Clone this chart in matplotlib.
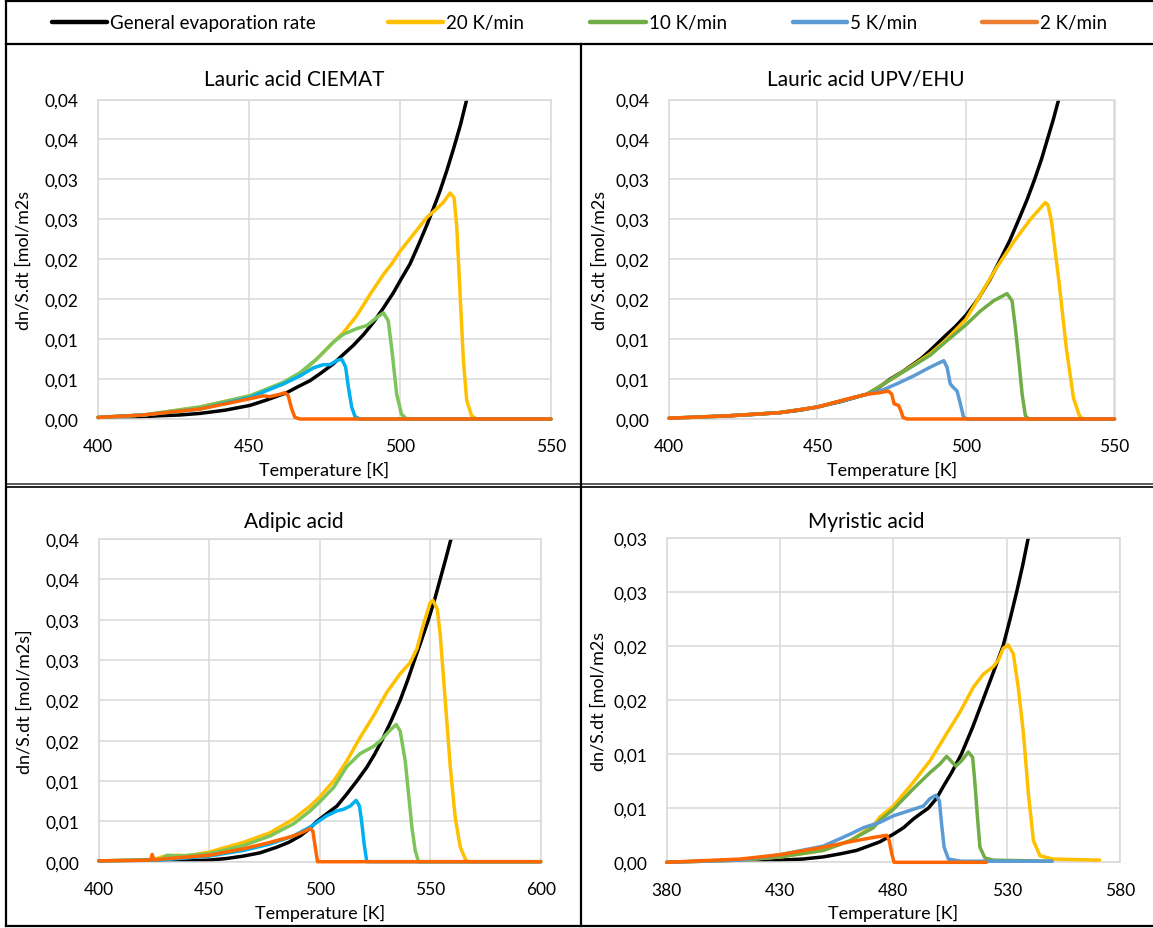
import matplotlib
matplotlib.use('Agg')
import matplotlib.pyplot as plt
from matplotlib.lines import Line2D

plt.rcParams['font.family'] = ['Lato', 'DejaVu Sans']

W, H = 1153, 929

# ---------------- Lauric acid CIEMAT ----------------
cie_gen_T = [400, 410, 420, 427, 433.8, 442, 450.3, 456, 462.5, 466, 470.2, 474, 477.9, 481, 484.5, 488, 491.2, 494.5,
             497.8, 500.5, 503.3, 506, 508.8, 511, 513.2, 515.5, 517.7, 520, 522.1, 524]
cie_gen_r = [0.0001, 0.0002, 0.0004, 0.0005, 0.0007, 0.0011, 0.0017, 0.0024, 0.0033, 0.0040, 0.0048, 0.0058, 0.0069, 0.0080,
             0.0092, 0.0106, 0.0121, 0.0139, 0.0158, 0.0176, 0.0194, 0.0217, 0.0242, 0.0263, 0.0285, 0.0311, 0.0338, 0.0368,
             0.0400, 0.0430]
cie_20_T = [400, 415, 433.8, 450.3, 461.4, 466.9, 472.4, 477.9, 481.2, 485.6, 490.1, 494.5, 497.2, 500.0, 504.4, 508.8,
            512.1, 514.3, 516.6, 517.9, 518.8, 519.9, 521.0, 522.1, 523.7, 525.4, 550]
cie_20_r = [0.0002, 0.0005, 0.0015, 0.0029, 0.0044, 0.0056, 0.0075, 0.0096, 0.0108, 0.0129, 0.0156, 0.0181, 0.0194, 0.0210, 0.0231, 0.0252,
            0.0263, 0.0271, 0.0283, 0.0277, 0.0240, 0.0156, 0.0073, 0.0023, 0.0004, 0.0, 0.0]
cie_10_T = [400, 415, 433.8, 450.3, 461.4, 466.9, 472.4, 477.9, 481.2, 485.6, 489.0, 492.3, 494.5, 496.1, 497.2, 498.9, 500.5, 502.2, 550]
cie_10_r = [0.0002, 0.0005, 0.0015, 0.0029, 0.0046, 0.0058, 0.0075, 0.0096, 0.0106, 0.0113, 0.0117, 0.0127, 0.0133, 0.0123, 0.0090, 0.0031, 0.0006, 0.0, 0.0]
cie_5_T = [400, 415, 433.8, 450.3, 461.4, 466.9, 471.3, 474.6, 476.8, 479.0, 480.7, 482.0, 482.9, 484.0, 485.1, 486.7, 550]
cie_5_r = [0.0002, 0.0005, 0.00125, 0.0027, 0.0044, 0.0054, 0.0064, 0.0068, 0.0068, 0.0073, 0.0075, 0.0065, 0.0040, 0.0015, 0.0003, 0.0, 0.0]
cie_2_T = [400, 415, 433.8, 444.8, 454.7, 456.9, 460.3, 461.9, 463.0, 464.1, 465.2, 466.9, 550]
cie_2_r = [0.0002, 0.0005, 0.00125, 0.0021, 0.0029, 0.0028, 0.0031, 0.0033, 0.0029, 0.0013, 0.0002, 0.0, 0.0]

# ---------------- Lauric acid UPV/EHU ----------------
upv_gen_T = [400, 410, 420, 430, 437.4, 444, 450, 458, 466.6, 470.5, 474.5, 478.5, 482.4, 485, 488, 493, 496.5, 500, 504,
             508, 511.6, 514.8, 517.8, 520.6, 523.1, 525.4, 527.4, 529.4, 531.2, 532.5]
upv_gen_r = [0.0001, 0.0002, 0.0004, 0.0006, 0.0008, 0.0011, 0.0015, 0.0022, 0.0031, 0.0039, 0.0050, 0.0059, 0.0069, 0.0076,
             0.0086, 0.0104, 0.0116, 0.0130, 0.0150, 0.0174, 0.0200, 0.0224, 0.0250, 0.0275, 0.0300, 0.0325, 0.0350, 0.0375,
             0.0400, 0.0420]
upv_20_T = [400, 420, 437.4, 450, 466.6, 474.5, 482.4, 488, 493, 500, 504.8, 510.4, 516.1, 521.7, 526.7, 527.6,
            528.8, 531.3, 533.8, 536.2, 538.1, 539.3, 550]
upv_20_r = [0.0001, 0.0004, 0.0008, 0.0015, 0.0031, 0.0049, 0.0068, 0.0082, 0.0098, 0.0125, 0.0155, 0.0190, 0.0222, 0.0250, 0.0271, 0.0268,
            0.0247, 0.0172, 0.0088, 0.0026, 0.0005, 0.0, 0.0]
upv_10_T = [400, 420, 437.4, 450, 466.6, 474.5, 482.4, 488, 493.6, 500, 504.8, 509.3, 513.8, 515.5, 516.6, 517.8, 518.9, 520, 521.1, 550]
upv_10_r = [0.0001, 0.0004, 0.0008, 0.0015, 0.0031, 0.0049, 0.0067, 0.0080, 0.0098, 0.0118, 0.0135, 0.0148, 0.0157, 0.0148, 0.0115, 0.0073,
            0.0031, 0.0004, 0.0, 0.0]
upv_5_T = [400, 420, 437.4, 450, 466.6, 471.1, 476.7, 482.4, 488, 492.5, 493.6, 494.7, 495.6, 497, 498.1, 499.2, 500.5, 550]
upv_5_r = [0.0001, 0.0004, 0.0008, 0.0015, 0.0031, 0.0035, 0.0044, 0.0054, 0.0065, 0.0073, 0.0065, 0.0044, 0.0040, 0.0035, 0.0019, 0.0002, 0.0, 0.0]
upv_2_T = [400, 420, 437.4, 450, 459.9, 466.6, 471.1, 473.9, 475.0, 475.8, 477.3, 478.1, 478.8, 480.1, 550]
upv_2_r = [0.0001, 0.0004, 0.0008, 0.0015, 0.0025, 0.0031, 0.0033, 0.0035, 0.0031, 0.0019, 0.0017, 0.0010, 0.0002, 0.0, 0.0]

# ---------------- Adipic acid ----------------
adi_gen_T = [400, 415, 427.8, 440, 450, 458, 465.5, 473, 480.6, 486, 491.2, 495, 498.7, 503, 507.8, 512, 516.8, 521.3, 524.8,
             528.1, 532.4, 536.4, 539.8, 542.9, 546.1, 549.2, 552, 554.5, 557, 559.4, 560.5]
adi_gen_r = [0.0, 0.00005, 0.0001, 0.0001, 0.0002, 0.0004, 0.0007, 0.0011, 0.0018, 0.0024, 0.0032, 0.0040, 0.0050, 0.0059,
             0.0069, 0.0083, 0.0100, 0.0117, 0.0133, 0.0150, 0.0175, 0.0200, 0.0225, 0.0250, 0.0275, 0.0300, 0.0325, 0.0350,
             0.0375, 0.0400, 0.0415]
adi_20_T = [400, 424, 430, 436, 440, 450, 465.5, 477.6, 488.2, 495.7, 499.9, 506.3, 512.3, 518.3, 524.4, 530.4, 536.4, 541, 544, 547,
            550, 551.2, 553.2, 554.5, 556.8, 559.1, 561.3, 563.6, 566.1, 567.5, 600]
adi_20_r = [0.0001, 0.0002, 0.0007, 0.0008, 0.0007, 0.0012, 0.0024, 0.0036, 0.0053, 0.0069, 0.0080, 0.0100, 0.0125, 0.0154, 0.0181, 0.0210,
            0.0233, 0.0247, 0.0264, 0.0295, 0.0321, 0.0324, 0.0313, 0.0282, 0.0200, 0.0117, 0.0055, 0.0018, 0.0002, 0.0, 0.0]
adi_10_T = [400, 428, 431, 436, 450, 465.5, 477.6, 488.2, 495.7, 499.9, 506.3, 512.3, 518.3, 524.4, 527.4, 531.5, 534.6, 536.4, 538.7,
            540.2, 541.7, 543.2, 544.7, 600]
adi_10_r = [0.0001, 0.0003, 0.0008, 0.0007, 0.0010, 0.0020, 0.0032, 0.0047, 0.0063, 0.0074, 0.0092, 0.0118, 0.0134, 0.0143, 0.0150, 0.0162,
            0.0170, 0.0162, 0.0125, 0.0084, 0.0043, 0.0014, 0.0, 0.0]
adi_5_T = [400, 427.8, 450, 465.5, 477.6, 488.2, 495.7, 499.9, 503.2, 507.8, 510.8, 513.8, 516.5, 518, 519.1, 520.1, 521.3, 600]
adi_5_r = [0.0001, 0.0002, 0.0007, 0.0014, 0.0022, 0.0032, 0.0043, 0.0051, 0.0057, 0.0063, 0.0065, 0.0069, 0.0076, 0.0069, 0.0047, 0.0022, 0.0, 0.0]
adi_2_T = [400, 423.5, 424.2, 425, 427.8, 450, 465.5, 477.6, 488.2, 492.7, 495.7, 496.9, 498, 499, 600]
adi_2_r = [0.0001, 0.0002, 0.0009, 0.0002, 0.0003, 0.0008, 0.0016, 0.0024, 0.0032, 0.0037, 0.0041, 0.0038, 0.0018, 0.0, 0.0]

# ---------------- Myristic acid ----------------
myr_gen_T = [380, 400, 412.4, 430, 440, 449.1, 457, 463.8, 469, 474.1, 480, 484.5, 488.8, 492, 495.4, 499, 502, 505.7, 510,
             515, 519.5, 524, 528.4, 531.5, 534.4, 537.1, 539.6, 540.5]
myr_gen_r = [0.0, 0.0001, 0.0001, 0.0002, 0.0003, 0.0005, 0.0008, 0.0011, 0.0015, 0.0019, 0.0026, 0.0032, 0.0040, 0.0045,
             0.0050, 0.0059, 0.0070, 0.0083, 0.0100, 0.0125, 0.0150, 0.0175, 0.0200, 0.0225, 0.0250, 0.0275, 0.0301, 0.0310]
myr_20_T = [380, 412.4, 430, 449.1, 460.9, 471.2, 474.1, 480, 488.8, 496.2, 503.5, 509.4, 515.3, 519.7, 524.1, 526.3, 528.5, 530.7,
            532.9, 535.1, 537.4, 539.6, 541.8, 544.7, 550.6, 571]
myr_20_r = [0.0, 0.0002, 0.0005, 0.0011, 0.0020, 0.0034, 0.0042, 0.0052, 0.0074, 0.0094, 0.0119, 0.0139, 0.0162, 0.0174, 0.0181, 0.0187,
            0.0198, 0.0201, 0.0193, 0.0162, 0.0119, 0.0063, 0.0020, 0.0006, 0.0003, 0.0002]
myr_10_T = [380, 412.4, 430, 449.1, 460.9, 471.2, 474.1, 480, 488.8, 496.2, 500.6, 503.5, 505.3, 507.6, 510.1, 513.1, 515, 516, 517.1,
            518.2, 520.4, 524.1, 550]
myr_10_r = [0.0, 0.0002, 0.0005, 0.0011, 0.0020, 0.0032, 0.0039, 0.0049, 0.0068, 0.0083, 0.0091, 0.0098, 0.0094, 0.0089, 0.0094, 0.0102,
            0.0097, 0.0073, 0.0042, 0.0014, 0.0004, 0.0002, 0.0001]
myr_5_T = [380, 412.4, 430, 449.1, 460.9, 466.8, 471.2, 474.1, 480, 488.8, 493.2, 496.2, 498.8, 500.3, 501.3, 502.4, 504.3, 510, 550]
myr_5_r = [0.0, 0.0002, 0.0007, 0.0015, 0.0026, 0.0032, 0.0035, 0.0037, 0.0043, 0.0049, 0.0052, 0.0059, 0.0062, 0.0057, 0.0035, 0.0014,
           0.0003, 0.0001, 0.0001]
myr_2_T = [380, 412.4, 430, 449.1, 460.9, 471.2, 477.1, 478.2, 479.3, 480.3, 521]
myr_2_r = [0.0, 0.0003, 0.0007, 0.0014, 0.0019, 0.0023, 0.0025, 0.0020, 0.0008, 0.0, 0.0]

# axis ticks
ticks_04 = [0, 0.005, 0.01, 0.015, 0.02, 0.025, 0.03, 0.035, 0.04]
labels_04 = ['0,00', '0,01', '0,01', '0,02', '0,02', '0,03', '0,03', '0,04', '0,04']
ticks_03 = [0, 0.005, 0.01, 0.015, 0.02, 0.025, 0.03]
labels_03 = ['0,00', '0,01', '0,01', '0,02', '0,02', '0,03', '0,03']

series_names = ['General evaporation rate', '20 K/min', '10 K/min', '5 K/min', '2 K/min']

GOLD = '#FFC000'
ORANGE = '#FF6600'
light = ['black', GOLD, '#7DC55A', '#00B0F0', ORANGE]
dark = ['black', GOLD, '#70AD47', '#5B9BD5', ORANGE]

# title, ylabel, plot box in px [left, top, right, bottom], xlim, xticks, ymax, yticks, labels,
# data, colours, ylabel offset, title x/y, xlabel y
panels = [
    ('Lauric acid CIEMAT', 'dn/S.dt [mol/m2s', (98, 100.5, 551, 420), (400, 550), [400, 450, 500, 550],
     0.04, ticks_04, labels_04,
     [(cie_gen_T, cie_gen_r), (cie_20_T, cie_20_r), (cie_10_T, cie_10_r), (cie_5_T, cie_5_r), (cie_2_T, cie_2_r)],
     light, 74, 294, 80, 470),
    ('Lauric acid UPV/EHU', 'dn/S.dt [mol/m2s', (669, 100.5, 1114.5, 420), (400, 550), [400, 450, 500, 550],
     0.04, ticks_04, labels_04,
     [(upv_gen_T, upv_gen_r), (upv_20_T, upv_20_r), (upv_10_T, upv_10_r), (upv_5_T, upv_5_r), (upv_2_T, upv_2_r)],
     dark, 69, 866, 80, 470),
    ('Adipic acid', 'dn/S.dt [mol/m2s]', (98.7, 540, 540.7, 862.7), (400, 600), [400, 450, 500, 550, 600],
     0.04, ticks_04, labels_04,
     [(adi_gen_T, adi_gen_r), (adi_20_T, adi_20_r), (adi_10_T, adi_10_r), (adi_5_T, adi_5_r), (adi_2_T, adi_2_r)],
     light, 74, 294, 522, 913),
    ('Myristic acid', 'dn/S.dt [mol/m2s', (666.7, 539, 1120, 863.3), (380, 580), [380, 430, 480, 530, 580],
     0.03, ticks_03, labels_03,
     [(myr_gen_T, myr_gen_r), (myr_20_T, myr_20_r), (myr_10_T, myr_10_r), (myr_5_T, myr_5_r), (myr_2_T, myr_2_r)],
     dark, 68, 866, 522, 913),
]

fig = plt.figure(figsize=(W / 100, H / 100), dpi=100)

for (title, ylab, box, xlim, xticks, ytop, yticks, ylabels, data, cols, yoff, tx, ty, xly) in panels:
    l, t, r, b = box
    ax = fig.add_axes([l / W, 1 - b / H, (r - l) / W, (b - t) / H])
    for k, (T, rate) in enumerate(data):
        ax.plot(T, rate, color=cols[k], lw=2.5, solid_joinstyle='round', solid_capstyle='round',
                clip_on=(k == 0), zorder=2 + k)
    ax.set_xlim(*xlim)
    ax.set_ylim(0, ytop)
    ax.set_xticks(xticks)
    ax.set_yticks(yticks)
    ax.set_yticklabels(ylabels)
    ax.tick_params(length=0, labelsize=12.5)
    ax.tick_params(axis='x', pad=14)
    ax.tick_params(axis='y', pad=14)
    ax.grid(color='#D9D9D9', lw=1.1)
    ax.set_axisbelow(True)
    for s in ax.spines.values():
        s.set_color('#D9D9D9')
        s.set_linewidth(1.1)
    fig.text(tx / W, 1 - ty / H, title, ha='center', va='center', fontsize=15)
    fig.text((l + r) / 2 / W, 1 - xly / H, 'Temperature [K]', ha='center', va='center', fontsize=13)
    fig.text((l - yoff) / W, 1 - (t + b) / 2 / H, ylab, ha='center', va='center', rotation=90, fontsize=13)

# frame lines around legend and panels
def hline(y, x0=6, x1=W, lw=1.6, c='black'):
    fig.add_artist(Line2D([x0 / W, x1 / W], [1 - y / H, 1 - y / H], color=c, lw=lw))

def vline(x, y0, y1, lw=1.6, c='black'):
    fig.add_artist(Line2D([x / W, x / W], [1 - y0 / H, 1 - y1 / H], color=c, lw=lw))

hline(1.7)
hline(45)
hline(485.3, c='#404040', lw=1.2)
hline(488.3, lw=1.2)
hline(927)
vline(6, 1.7, 927)
vline(581, 45, 927)

# legend, drawn by hand along the top strip
leg_colors = ['black', GOLD, '#70AD47', '#5B9BD5', '#ED7D31']
handle_x = [(51.5, 106.6), (388, 443), (590, 645.6), (792.6, 847), (981.6, 1036.8)]
for name, c, (x0, x1) in zip(series_names, leg_colors, handle_x):
    fig.add_artist(Line2D([x0 / W, x1 / W], [1 - 23.3 / H] * 2, color=c, lw=3.2, solid_capstyle='round'))
    fig.text((x1 + 3) / W, 1 - 23.3 / H, name, ha='left', va='center', fontsize=13.5)

fig.savefig('out.png', dpi=100)
